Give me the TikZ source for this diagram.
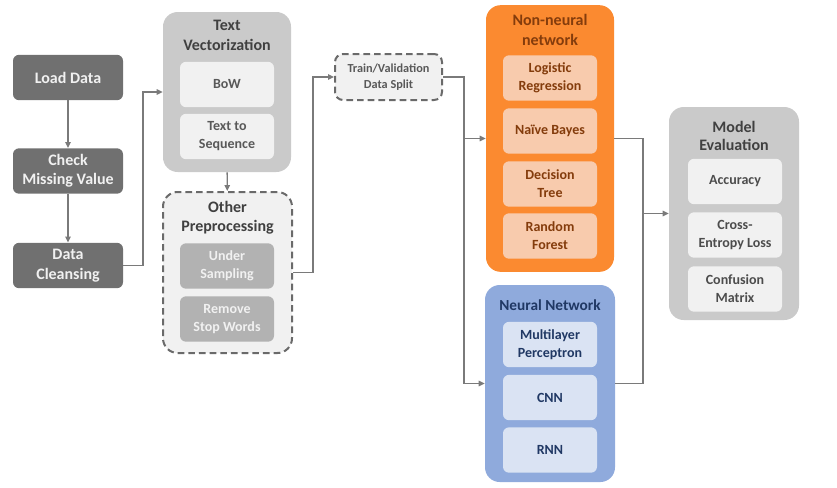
\documentclass[tikz,border=0pt]{standalone}
\usepackage{fontspec}
\setmainfont{Carlito}
\usepackage{xcolor}
\usetikzlibrary{arrows.meta}
\definecolor{gray1}{HTML}{707070}
\definecolor{gray2}{HTML}{CACACA}
\definecolor{gray3}{HTML}{F1F1F1}
\definecolor{gray4}{HTML}{B2B2B2}
\definecolor{gray5}{HTML}{6A6A6A}
\definecolor{linegray}{HTML}{7A7A7A}
\definecolor{orange1}{HTML}{FB8A30}
\definecolor{orange2}{HTML}{F8CBAD}
\definecolor{brown1}{HTML}{843C0C}
\definecolor{blue1}{HTML}{8FAADC}
\definecolor{blue2}{HTML}{DAE3F3}
\definecolor{navy1}{HTML}{203864}

\begin{document}
\begin{tikzpicture}[x=0.75pt, y=-0.75pt]
\tikzstyle{txt} = [font=\fontsize{10.5}{13.5}\selectfont\bfseries, align=center, inner sep=0pt]
\tikzstyle{title} = [txt, font=\fontsize{12}{14.5}\selectfont\bfseries]
\tikzstyle{step1} = [title, fill=gray1, text=gray3, rounded corners=4.5pt, minimum width=82.5pt, minimum height=34pt]
\tikzstyle{outer} = [rounded corners=11pt, minimum width=96pt]
\tikzstyle{inner} = [txt, rounded corners=4.5pt, minimum width=70.5pt, minimum height=34pt]
\tikzstyle{dash box} = [draw=gray5, line width=1.5pt, dash pattern=on 5pt off 3pt, fill=gray3]
\tikzstyle{conn} = [-{Triangle[length=4.5pt, width=4pt]}, draw=linegray, line width=1.1pt]
\tikzstyle{line} = [draw=linegray, line width=1.1pt]

\useasboundingbox (0,0) rectangle (837,487);

% preparation
\node [step1] (load) at (68,77.5) {Load Data};
\node [step1] (check) at (68,171) {Check\\Missing Value};
\node [step1] (clean) at (68,265.5) {Data\\Cleansing};

% text vectorization
\node [outer, fill=gray2, minimum height=120pt] (tv) at (227,92) {};
\node [title, text=black!75] (tvtitle) at (227,35.5) {Text\\Vectorization};
\node [inner, fill=gray3, text=black!65] (bow) at (227,84.5) {BoW};
\node [inner, fill=gray3, text=black!65] (tts) at (227,136.5) {Text to\\Sequence};

% other preprocessing
\node [outer, dash box, minimum width=96.75pt, minimum height=120.75pt] (op) at (227.5,272.5) {};
\node [title, text=black!75] (optitle) at (227.5,218) {Other\\Preprocessing};
\node [inner, fill=gray4, text=gray3] (us) at (227,266) {Under\\Sampling};
\node [inner, fill=gray4, text=gray3] (rsw) at (227,319) {Remove\\Stop Words};

% split
\node [dash box, rounded corners=6pt, minimum width=80.25pt, minimum height=34.5pt, inner sep=0pt, align=center,
       font=\fontsize{9.2}{11.5}\selectfont\bfseries, text=black!65] (split) at (388.5,77) {Train/Validation\\Data Split};

% non-neural network
\node [outer, fill=orange1, minimum height=200pt] (nonneural) at (550,138.5) {};
\node [title, text=brown1, font=\fontsize{12}{15}\selectfont\bfseries] (nntitle) at (550,30) {Non-neural\\network};
\node [inner, fill=orange2, text=brown1] (lr) at (550,78) {Logistic\\Regression};
\node [inner, fill=orange2, text=brown1] (nb) at (550,131) {Naïve Bayes};
\node [inner, fill=orange2, text=brown1] (dt) at (550,184) {Decision\\Tree};
\node [inner, fill=orange2, text=brown1] (rf) at (550,236) {Random\\Forest};

% neural network
\node [outer, fill=blue1, minimum width=97.5pt, minimum height=147.75pt] (neural) at (550,383.5) {};
\node [title, text=navy1, font=\fontsize{11.5}{14}\selectfont\bfseries] (ntitle) at (550,305) {Neural Network};
\node [inner, fill=blue2, text=navy1] (mlp) at (550,344.5) {Multilayer\\Perceptron};
\node [inner, fill=blue2, text=navy1] (cnn) at (550,397.5) {CNN};
\node [inner, fill=blue2, text=navy1] (rnn) at (550,450) {RNN};

% model evaluation
\node [outer, fill=gray2, minimum width=97.5pt, minimum height=159.75pt] (me) at (734,213.5) {};
\node [title, text=black!75, font=\fontsize{12}{13.5}\selectfont\bfseries] (metitle) at (734,135.5) {Model\\Evaluation};
\node [inner, fill=gray3, text=black!70] (acc) at (735,181.5) {Accuracy};
\node [inner, fill=gray3, text=black!70] (cel) at (735,235) {Cross-\\Entropy Loss};
\node [inner, fill=gray3, text=black!70] (cm) at (735,289) {Confusion\\Matrix};

\coordinate (j1) at (143,0);
\coordinate (j2) at (313,0);
\coordinate (j3) at (464,0);
\coordinate (j4) at (643,0);

\draw [conn] (load) -- (check);
\draw [conn] (check) -- (clean);
\draw [conn] (clean.east) -- (j1 |- clean.east) -- (j1 |- tv.west) -- (tv.west);
\draw [conn] (tv) -- (op);
\draw [conn] (op.east) -- (j2 |- op.east) -- (j2 |- split.west) -- (split.west);
\draw [line] (split.east) -- (j3 |- split.east) -- (j3 |- neural.west);
\draw [conn] (j3 |- nonneural.west) -- (nonneural.west);
\draw [conn] (j3 |- neural.west) -- (neural.west);
\draw [line] (nonneural.east) -- (j4 |- nonneural.east) -- (j4 |- neural.east) -- (neural.east);
\draw [conn] (j4 |- me.west) -- (me.west);
\end{tikzpicture}
\end{document}
